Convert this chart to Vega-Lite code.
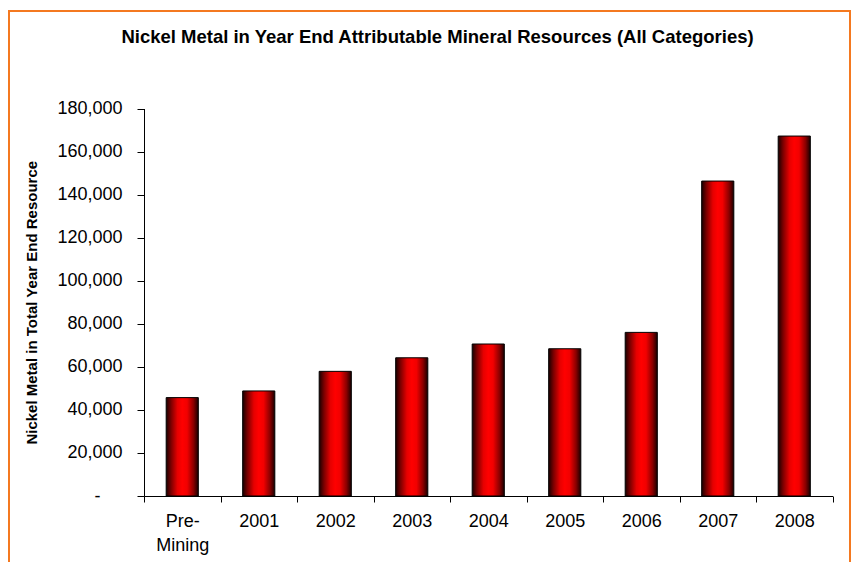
{
  "$schema": "https://vega.github.io/schema/vega-lite/v6.json",
  "width": 841,
  "height": 560,
  "autosize": {"type": "none"},
  "padding": {"left": 9, "top": 11, "right": 2, "bottom": 0},
  "background": "white",
  "title": {
    "text": "Nickel Metal in Year End Attributable Mineral Resources (All Categories)",
    "font": "Liberation Sans",
    "fontSize": 18.5,
    "fontWeight": "bold",
    "color": "#000000",
    "anchor": "middle",
    "frame": "group",
    "orient": "top",
    "offset": 0,
    "baseline": "alphabetic",
    "dy": 50,
    "dx": 8
  },
  "data": {
    "values": [
      {"category": "Pre-Mining", "value": 45700},
      {"category": "2001", "value": 48800},
      {"category": "2002", "value": 57900},
      {"category": "2003", "value": 64200},
      {"category": "2004", "value": 70600},
      {"category": "2005", "value": 68400},
      {"category": "2006", "value": 76000},
      {"category": "2007", "value": 146300},
      {"category": "2008", "value": 167200}
    ]
  },
  "mark": {
    "type": "bar",
    "width": {"band": 0.42},
    "stroke": "#000000",
    "strokeWidth": 1,
    "fill": {
      "gradient": "linear",
      "x1": 0, "y1": 0, "x2": 1, "y2": 0,
      "stops": [
        {"offset": 0, "color": "#1a0000"},
        {"offset": 0.15, "color": "#7a0000"},
        {"offset": 0.35, "color": "#e60000"},
        {"offset": 0.5, "color": "#ff0000"},
        {"offset": 0.65, "color": "#f20000"},
        {"offset": 0.85, "color": "#8a0000"},
        {"offset": 1, "color": "#1a0000"}
      ]
    }
  },
  "encoding": {
    "x": {
      "field": "category",
      "type": "ordinal",
      "sort": null,
      "scale": {"range": [135, 823.5], "paddingInner": 0, "paddingOuter": 0},
      "axis": {
        "title": null,
        "orient": "bottom",
        "offset": -75,
        "tickBand": "extent",
        "tickSize": 6,
        "tickColor": "#000000",
        "domainColor": "#000000",
        "labelAngle": 0,
        "labelFont": "Liberation Sans",
        "labelFontSize": 18,
        "labelColor": "#000000",
        "labelPadding": 10,
        "labelLineHeight": 24,
        "labelExpr": "datum.label == 'Pre-Mining' ? ['Pre-', 'Mining'] : datum.label"
      }
    },
    "y": {
      "field": "value",
      "type": "quantitative",
      "scale": {"domain": [0, 180000], "range": [485, 97.5], "nice": false, "zero": true},
      "axis": {
        "orient": "left",
        "offset": -135,
        "values": [0, 20000, 40000, 60000, 80000, 100000, 120000, 140000, 160000, 180000],
        "grid": false,
        "tickSize": 7,
        "tickColor": "#000000",
        "domainColor": "#000000",
        "labelFont": "Liberation Sans",
        "labelFontSize": 18,
        "labelColor": "#000000",
        "labelPadding": {"condition": {"test": "datum.value == 0", "value": 37}, "value": 15},
        "labelOverlap": false,
        "labelExpr": "datum.value == 0 ? '-' : format(datum.value, ',')",
        "title": "Nickel Metal in Total Year End Resource",
        "titleFont": "Liberation Sans",
        "titleFontSize": 15,
        "titleFontWeight": "bold",
        "titleColor": "#000000",
        "titlePadding": 17
      }
    }
  },
  "config": {
    "view": {"stroke": "#F47920", "strokeWidth": 2}
  }
}
